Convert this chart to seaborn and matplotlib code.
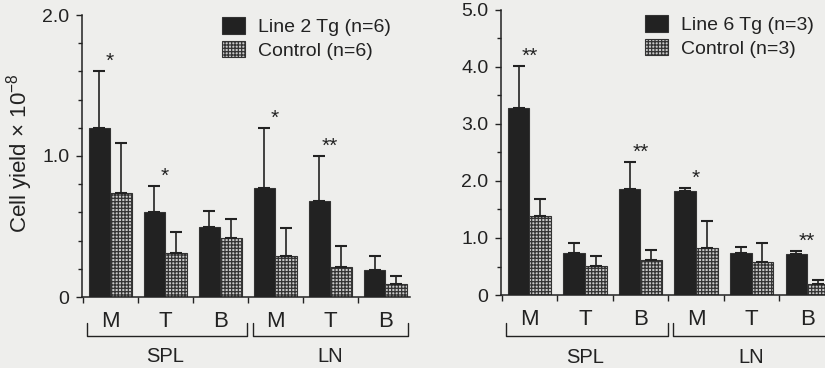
import numpy as np
import pandas as pd
import matplotlib.pyplot as plt
import seaborn as sns
from matplotlib.ticker import MultipleLocator, FuncFormatter

# cell types along the x axis, two tissues
cells = ['M', 'T', 'B', 'M', 'T', 'B']
tissues = ['SPL', 'LN']
keys = ['SPL M', 'SPL T', 'SPL B', 'LN M', 'LN T', 'LN B']

# Line 2 (left panel)
labels2 = ['Line 2 Tg (n=6)', 'Control (n=6)']
tg2 = [1.20, 0.60, 0.50, 0.77, 0.68, 0.19]
tg2_err = [0.40, 0.19, 0.11, 0.43, 0.32, 0.10]
ctrl2 = [0.74, 0.31, 0.42, 0.29, 0.21, 0.09]
ctrl2_err = [0.35, 0.15, 0.13, 0.20, 0.15, 0.06]
stars2 = ['*', '*', '', '*', '**', '']

# Line 6 (right panel)
labels6 = ['Line 6 Tg (n=3)', 'Control (n=3)']
tg6 = [3.28, 0.74, 1.86, 1.82, 0.74, 0.72]
tg6_err = [0.74, 0.17, 0.48, 0.06, 0.10, 0.05]
ctrl6 = [1.39, 0.51, 0.61, 0.82, 0.58, 0.19]
ctrl6_err = [0.29, 0.17, 0.18, 0.48, 0.33, 0.07]
stars6 = ['**', '', '**', '*', '', '**']

sns.set_style('ticks')
plt.rcParams['font.family'] = ['Liberation Sans', 'DejaVu Sans']
plt.rcParams['mathtext.fontset'] = 'custom'
plt.rcParams['mathtext.rm'] = 'Liberation Sans'
plt.rcParams['hatch.linewidth'] = 0.9
ink = '#222222'
paper = '#eeeeec'


def fmt(v, pos):
    return '0' if v == 0 else '%.1f' % v


def panel(ax, tg, tg_err, ctrl, ctrl_err, stars, labels, ymax, minor, xmax, bracket_y):
    df = pd.DataFrame({'cell': keys * 2,
                       'group': [labels[0]] * 6 + [labels[1]] * 6,
                       'value': tg + ctrl})
    sns.barplot(data=df, x='cell', y='value', hue='group', order=keys,
                hue_order=labels, palette=['#222222', '#c8c8c8'], width=0.78,
                errorbar=None, edgecolor='#333333', linewidth=0.8,
                legend=False, ax=ax)
    for p in ax.containers[1]:
        p.set_hatch('+++++')

    # upper error bars only
    for cont, err in zip(ax.containers, [tg_err, ctrl_err]):
        xs = [p.get_x() + p.get_width() / 2 for p in cont]
        ys = [p.get_height() for p in cont]
        ax.errorbar(xs, ys, yerr=[np.zeros(len(err)), err], fmt='none',
                    ecolor=ink, elinewidth=1.2, capsize=4.6, capthick=1.5)

    # significance marks above Tg bars
    for i, s in enumerate(stars):
        if s:
            ax.annotate(s, xy=(i, tg[i] + tg_err[i]), xytext=(0, 3),
                        textcoords='offset points', ha='center',
                        va='baseline', fontsize=15, color=ink)

    ax.set_xlim(-0.51, xmax)
    ax.set_ylim(0, ymax)
    ax.yaxis.set_major_locator(MultipleLocator(1.0))
    ax.yaxis.set_minor_locator(MultipleLocator(minor))
    ax.yaxis.set_major_formatter(FuncFormatter(fmt))
    ax.tick_params(axis='y', which='major', length=4, width=1.0, labelsize=14,
                   colors=ink, pad=5)
    ax.tick_params(axis='y', which='minor', length=3, width=1.0, colors=ink)

    # ticks between groups, labels at group centres
    ax.set_xticks(np.arange(6) - 0.5)
    ax.set_xticklabels([])
    ax.set_xticks(np.arange(6), minor=True)
    ax.set_xticklabels(cells, minor=True)
    ax.tick_params(axis='x', which='major', length=4, width=1.0, colors=ink)
    ax.tick_params(axis='x', which='minor', length=0, labelsize=16,
                   colors=ink, pad=10)
    ax.set_xlabel('')
    ax.set_ylabel('')
    for side in ['top', 'right']:
        ax.spines[side].set_visible(False)
    for side in ['left', 'bottom']:
        ax.spines[side].set_linewidth(1.1)
        ax.spines[side].set_color(ink)
    ax.set_facecolor(paper)

    # brackets under the tissue groups
    tr = ax.get_xaxis_transform()
    y0, y1 = bracket_y
    for (a, b), xc, name in zip([(-0.42, 2.49), (2.59, 5.42)], [1.0, 4.0], tissues):
        ax.plot([a, a, b, b], [y1, y0, y0, y1], color=ink, lw=1.0,
                transform=tr, clip_on=False)
        ax.text(xc, y0 - 0.074, name, transform=tr, ha='center', va='center',
                fontsize=14.5, color=ink)

    leg = ax.legend(ax.containers[:2], labels, frameon=False, fontsize=14,
                    handlelength=1.19, handleheight=0.93, handletextpad=0.65,
                    labelspacing=0.25, borderpad=0, borderaxespad=0,
                    loc='upper left')
    for t in leg.get_texts():
        t.set_color(ink)
    return leg


fig = plt.figure(figsize=(8.25, 3.68), dpi=100, facecolor=paper)
ax1 = fig.add_axes([82 / 825, 1 - 297 / 368, (410 - 82) / 825, (297 - 15) / 368])
ax2 = fig.add_axes([501 / 825, 1 - 295 / 368, (825 - 501) / 825, (295 - 10) / 368])

leg1 = panel(ax1, tg2, tg2_err, ctrl2, ctrl2_err, stars2, labels2, 2.0, 0.2,
             5.45, (-0.138, -0.092))
leg1.set_bbox_to_anchor((222 / 825, 1 - 17 / 368), transform=fig.transFigure)
leg2 = panel(ax2, tg6, tg6_err, ctrl6, ctrl6_err, stars6, labels6, 5.0, 0.5,
             5.32, (-0.144, -0.098))
leg2.set_bbox_to_anchor((645 / 825, 1 - 15 / 368), transform=fig.transFigure)

ax1.set_ylabel(r'Cell yield $\times$ 10$^{-8}$', fontsize=16, color=ink)
ax1.yaxis.set_label_coords(-0.144, 0.51)

plt.savefig('out.png', dpi=100, facecolor=paper)
